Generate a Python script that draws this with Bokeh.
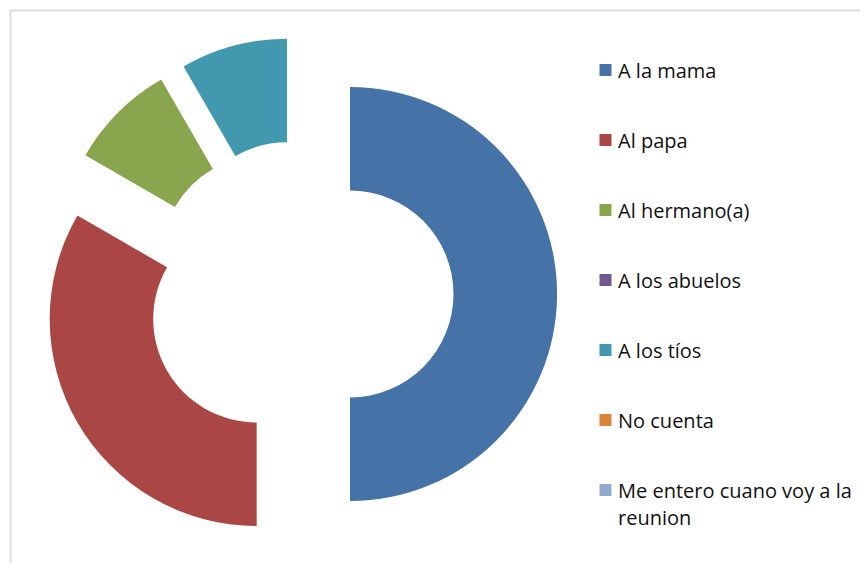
import math
import textwrap
from bokeh.plotting import figure
from bokeh.models import Range1d, BoxAnnotation, ColumnDataSource
from bokeh.embed import file_html
from bokeh.resources import INLINE
from bokeh.core.properties import value

# ---- data ----
categories = ["A la mama", "Al papa", "Al hermano(a)", "A los abuelos",
              "A los tíos", "No cuenta", "Me entero cuano voy a la reunion"]
counts = [6, 4, 1, 0, 1, 0, 0]
colors = ["#4572A7", "#AA4643", "#89A54E", "#71588F", "#4198AF", "#DB843D", "#93A9CF"]

# ---- layout (pixel-like data units, y up) ----
W, H = 860, 563


def Y(y_img):
    return H - y_img


p = figure(width=W, height=H, output_backend="svg", toolbar_location=None,
           x_range=Range1d(0, W), y_range=Range1d(0, H),
           x_axis_location=None, y_axis_location=None,
           min_border=0, min_border_left=0, min_border_right=0,
           min_border_top=0, min_border_bottom=0)
p.grid.visible = False
p.outline_line_color = None
p.background_fill_color = "white"
p.border_fill_color = "white"

# chart border
p.add_layout(BoxAnnotation(left=10, right=3000, top=Y(10), bottom=-1000,
                           fill_alpha=0, line_color="#8a8a8a", line_width=2))

cx, cy = 299.5, Y(293.5)
R_out, R_in, explode = 207, 103.5, 50

total = sum(counts)
xs, ys, starts, ends, cols = [], [], [], [], []
cum = 0.0
for c, col in zip(counts, colors):
    frac0 = cum / total
    cum += c
    frac1 = cum / total
    if c == 0:
        continue
    a_start = math.pi / 2 - 2 * math.pi * frac1
    a_end = math.pi / 2 - 2 * math.pi * frac0
    mid = (a_start + a_end) / 2
    xs.append(cx + explode * math.cos(mid))
    ys.append(cy + explode * math.sin(mid))
    starts.append(a_start)
    ends.append(a_end)
    cols.append(col)

src = ColumnDataSource(dict(x=xs, y=ys, start=starts, end=ends, color=cols))
p.annular_wedge(x="x", y="y", inner_radius=R_in, outer_radius=R_out,
                start_angle="start", end_angle="end", fill_color="color",
                line_color=None, source=src)

# legend
lx_sq, lx_txt = 605, 617.5
top_y = Y(69.5)
step = 70
line_h = 27.5
font = value("Open Sans")
for i, (lab, col) in enumerate(zip(categories, colors)):
    y = top_y - i * step
    p.rect(x=[lx_sq], y=[y], width=12, height=12, fill_color=col, line_color=None)
    for j, line in enumerate(textwrap.wrap(lab, 24)):
        p.text(x=[lx_txt], y=[y - j * line_h], text=[line], text_font=font,
               text_font_size="20px", text_baseline="middle", text_align="left",
               text_color="#111111")

open("out.html", "w").write(file_html(p, INLINE))
